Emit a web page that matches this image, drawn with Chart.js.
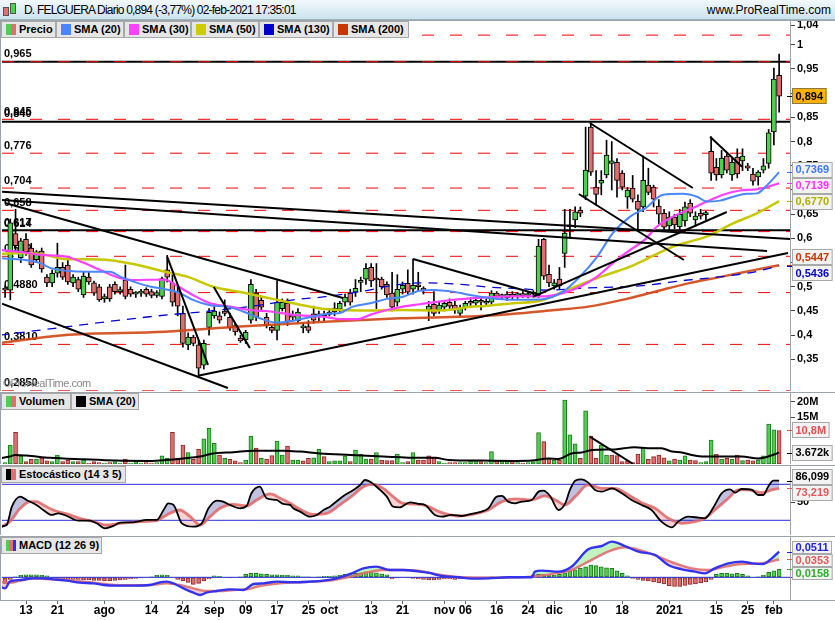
<!DOCTYPE html>
<html><head><meta charset="utf-8">
<script src="https://cdn.jsdelivr.net/npm/chart.js@4.4.1/dist/chart.umd.min.js"></script>
<style>
html,body{margin:0;padding:0;background:#fff;}
body{width:835px;height:620px;position:relative;overflow:hidden;font-family:Arial,"Liberation Sans",Helvetica,sans-serif;}
.pane{position:absolute;left:0;width:835px;}
#title{position:absolute;left:0;top:0;width:835px;height:19px;background:linear-gradient(#f2f9fc,#cbe3ee);border-bottom:1px solid #9db3bf;z-index:6;}
#title .t{position:absolute;left:24px;top:3px;font-size:12px;letter-spacing:-0.8px;color:#000;white-space:nowrap;}
#title .w{position:absolute;right:4px;top:3px;font-size:12px;color:#000;white-space:nowrap;}
.ic{position:absolute;border:1px solid #555;box-sizing:border-box;}
.lg{position:absolute;height:17px;background:#e6e6e6;border:1px solid #a8a8a8;box-sizing:border-box;font-size:11px;font-weight:bold;line-height:15px;white-space:nowrap;color:#000;z-index:5;}
.lg i{position:absolute;left:4px;top:2px;width:10px;height:11px;}
.lg span{position:absolute;left:17px;top:0;}
.wm{position:absolute;left:3px;top:377px;font-size:11px;letter-spacing:-0.5px;color:#888;z-index:4;white-space:nowrap;}
</style></head>
<body>
<div id="title">
  <div class="ic" style="left:3px;top:7px;width:6px;height:9px;background:#e07070;"></div>
  <div class="ic" style="left:10px;top:3px;width:6px;height:11px;background:#4fcf4f;"></div>
  <div class="t">D. FELGUERA Diario 0,894 (-3,77%) 02-feb-2021 17:35:01</div>
  <div class="w">www.ProRealTime.com</div>
</div>

<div class="lg" style="left:1px;top:21px;width:55px;"><i style="background:linear-gradient(90deg,#4fcf4f 50%,#e07070 50%);"></i><span>Precio</span></div>
<div class="lg" style="left:56px;top:21px;width:68px;"><i style="background:#4a86ff;"></i><span>SMA (20)</span></div>
<div class="lg" style="left:124px;top:21px;width:67px;"><i style="background:#ff40ff;"></i><span>SMA (30)</span></div>
<div class="lg" style="left:191px;top:21px;width:68px;"><i style="background:#cccc00;"></i><span>SMA (50)</span></div>
<div class="lg" style="left:259px;top:21px;width:74px;"><i style="background:#0000cc;"></i><span>SMA (130)</span></div>
<div class="lg" style="left:333px;top:21px;width:76px;"><i style="background:#cc3300;"></i><span>SMA (200)</span></div>

<div class="lg" style="left:1px;top:393px;width:70px;"><i style="background:linear-gradient(90deg,#4fcf4f 50%,#e07070 50%);"></i><span>Volumen</span></div>
<div class="lg" style="left:71px;top:393px;width:68px;"><i style="background:#000;"></i><span>SMA (20)</span></div>
<div class="lg" style="left:1px;top:466px;width:125px;"><i style="background:linear-gradient(90deg,#000 50%,#e07070 50%);"></i><span>Estocástico (14 3 5)</span></div>
<div class="lg" style="left:1px;top:537px;width:101px;"><i style="background:linear-gradient(90deg,#4fcf4f 33%,#e07070 33%,#e07070 66%,#3030ee 66%);"></i><span>MACD (12 26 9)</span></div>

<div class="wm">©ProRealTime.com</div>

<div class="pane" style="top:20px;height:371px;"><canvas id="cMain"></canvas></div>
<div class="pane" style="top:392px;height:72px;"><canvas id="cVol"></canvas></div>
<div class="pane" style="top:465px;height:70px;"><canvas id="cSto"></canvas></div>
<div class="pane" style="top:536px;height:84px;"><canvas id="cMacd"></canvas></div>

<script>
// ---------------- DATA ----------------
const FIRST_INDEX = -4;           // first bar = 7 jul 2020, index 0 = 13 jul 2020
const X_MIN = -4.59, X_MAX = 146.08;

const tickIdx  = [0,6,15,24,30,36,42,48,54,58,66,72,80,84,90,96,101,108,114,123,132,138,143];
const tickText = ["13","21","ago","14","24","sep","09","17","25","oct","13","21","nov","06","16","24","dic","10","18","2021","15","25","feb"];

const open = [
 0.497,0.493,0.610,0.560,0.598,0.580,0.556,0.574,0.520,0.508,
 0.528,0.540,0.545,0.508,0.515,0.483,0.520,0.508,0.500,0.475,
 0.500,0.505,0.490,0.514,0.495,0.485,0.487,0.495,0.490,0.482,
 0.480,0.535,0.508,0.490,0.445,0.380,0.396,0.380,0.338,0.416,
 0.440,0.440,0.450,0.437,0.420,0.394,0.390,0.431,0.487,0.472,
 0.437,0.416,0.410,0.455,0.466,0.440,0.430,0.415,0.418,0.444,
 0.440,0.441,0.448,0.448,0.454,0.468,0.487,0.489,0.509,0.516,
 0.540,0.518,0.516,0.505,0.487,0.468,0.495,0.507,0.495,0.501,
 0.494,0.452,0.464,0.452,0.458,0.468,0.462,0.445,0.458,0.470,
 0.466,0.472,0.466,0.468,0.487,0.480,0.477,0.485,0.482,0.486,
 0.482,0.485,0.483,0.598,0.526,0.502,0.516,0.569,0.624,0.638,
 0.658,0.687,0.830,0.706,0.714,0.731,0.755,0.757,0.735,0.685,
 0.704,0.677,0.665,0.710,0.706,0.667,0.652,0.626,0.644,0.624,
 0.636,0.673,0.638,0.652,0.649,0.780,0.747,0.731,0.770,0.731,
 0.768,0.760,0.750,0.733,0.727,0.741,0.755,0.820,0.937];
const high = [
 0.502,0.640,0.660,0.600,0.610,0.590,0.575,0.580,0.525,0.535,
 0.590,0.550,0.555,0.525,0.520,0.530,0.530,0.512,0.505,0.485,
 0.505,0.510,0.500,0.545,0.500,0.490,0.495,0.498,0.495,0.492,
 0.520,0.565,0.525,0.500,0.460,0.405,0.400,0.388,0.390,0.455,
 0.465,0.448,0.473,0.445,0.425,0.400,0.410,0.515,0.495,0.480,
 0.445,0.420,0.513,0.475,0.475,0.450,0.455,0.425,0.430,0.460,
 0.450,0.450,0.455,0.467,0.470,0.485,0.495,0.515,0.520,0.548,
 0.548,0.548,0.520,0.510,0.530,0.525,0.510,0.535,0.557,0.530,
 0.500,0.470,0.490,0.470,0.472,0.475,0.470,0.462,0.470,0.478,
 0.476,0.478,0.475,0.492,0.490,0.485,0.490,0.490,0.488,0.490,
 0.490,0.492,0.598,0.600,0.545,0.515,0.540,0.660,0.660,0.665,
 0.665,0.830,0.838,0.740,0.740,0.803,0.800,0.765,0.740,0.705,
 0.730,0.690,0.770,0.745,0.710,0.680,0.660,0.655,0.650,0.660,
 0.675,0.680,0.655,0.660,0.656,0.810,0.765,0.782,0.775,0.765,
 0.785,0.785,0.755,0.745,0.740,0.765,0.825,0.952,0.981];
const low = [
 0.478,0.473,0.575,0.550,0.565,0.540,0.550,0.530,0.500,0.500,
 0.520,0.515,0.505,0.500,0.490,0.478,0.505,0.482,0.470,0.468,
 0.470,0.485,0.485,0.475,0.480,0.478,0.480,0.480,0.477,0.478,
 0.475,0.510,0.460,0.440,0.375,0.370,0.378,0.316,0.330,0.400,
 0.435,0.425,0.440,0.410,0.400,0.385,0.383,0.425,0.430,0.450,
 0.415,0.405,0.390,0.450,0.420,0.430,0.425,0.405,0.405,0.425,
 0.430,0.430,0.440,0.440,0.445,0.460,0.462,0.480,0.490,0.505,
 0.500,0.455,0.495,0.478,0.450,0.460,0.485,0.485,0.485,0.490,
 0.485,0.430,0.440,0.445,0.450,0.455,0.445,0.440,0.452,0.460,
 0.460,0.452,0.460,0.462,0.475,0.475,0.472,0.475,0.476,0.478,
 0.477,0.480,0.478,0.515,0.500,0.495,0.495,0.540,0.600,0.622,
 0.645,0.680,0.730,0.668,0.690,0.725,0.700,0.685,0.700,0.662,
 0.675,0.617,0.655,0.690,0.665,0.630,0.615,0.617,0.620,0.615,
 0.625,0.645,0.625,0.640,0.638,0.720,0.720,0.725,0.735,0.720,
 0.725,0.740,0.740,0.710,0.710,0.735,0.745,0.793,0.861];
const close = [
 0.493,0.632,0.585,0.595,0.572,0.545,0.572,0.537,0.508,0.528,
 0.540,0.520,0.510,0.520,0.495,0.522,0.510,0.487,0.473,0.480,
 0.475,0.490,0.492,0.480,0.485,0.486,0.490,0.485,0.482,0.488,
 0.517,0.520,0.468,0.460,0.383,0.396,0.383,0.332,0.383,0.447,
 0.450,0.431,0.445,0.415,0.407,0.388,0.406,0.505,0.437,0.458,
 0.420,0.410,0.468,0.468,0.427,0.437,0.448,0.416,0.410,0.431,
 0.443,0.437,0.443,0.456,0.466,0.479,0.468,0.497,0.511,0.538,
 0.512,0.514,0.500,0.483,0.458,0.495,0.503,0.489,0.503,0.500,
 0.493,0.460,0.445,0.462,0.466,0.460,0.452,0.456,0.466,0.466,
 0.472,0.468,0.470,0.487,0.480,0.482,0.485,0.480,0.483,0.481,
 0.483,0.486,0.584,0.522,0.508,0.508,0.502,0.611,0.628,0.655,
 0.652,0.741,0.737,0.691,0.720,0.772,0.760,0.720,0.706,0.700,
 0.681,0.660,0.720,0.695,0.681,0.650,0.623,0.644,0.628,0.650,
 0.665,0.652,0.646,0.646,0.651,0.735,0.731,0.766,0.741,0.757,
 0.733,0.770,0.745,0.718,0.737,0.750,0.818,0.929,0.894];
const volume = [ // millions
 0.43,6.1,10.2,2.6,0.75,1.5,1.6,2.0,1.0,0.75,
 2.9,0.75,1.3,0.75,0.75,1.3,0.2,0.75,0.43,0.2,
 0.43,0.75,0.2,1.6,0.2,0.75,0.2,0.43,0.2,0.43,
 2.6,1.8,10.2,1.8,6.1,3.7,1.5,4.7,8.1,11.5,
 6.7,2.9,1.8,1.5,1.0,0.43,1.3,9.0,5.1,1.8,
 1.6,2.7,7.4,2.9,5.8,1.3,1.3,1.0,1.8,2.0,
 4.7,2.4,0.75,1.0,1.0,2.6,0.75,4.5,3.2,1.6,
 1.6,3.7,1.3,1.1,1.1,3.2,0.43,0.75,3.7,1.3,
 1.3,2.6,2.0,0.75,0.2,0.43,0.43,0.43,0.43,1.1,
 1.1,0.75,0.43,4.0,1.1,1.1,0.75,0.75,0.43,0.2,
 0.43,0.75,10.1,7.2,1.8,1.3,1.3,20.6,9.4,6.5,
 1.8,17.1,9.0,1.8,6.1,2.9,2.9,2.7,0.75,1.0,
 0.43,3.2,5.1,1.5,2.4,2.9,2.0,1.0,1.6,1.3,
 2.6,1.3,1.1,0.43,0.75,7.7,3.2,1.6,1.8,1.6,
 2.9,1.1,1.3,1.0,1.3,2.6,12.9,11.0,10.8];
const macdHist = [
 -0.012,-0.004,0.001,0.004,0.005,0.005,0.005,0.004,0.003,-0.002,
 -0.002,-0.003,-0.003,-0.004,-0.004,-0.005,-0.005,-0.006,-0.006,-0.007,
 -0.007,-0.006,-0.005,-0.004,-0.003,-0.002,-0.001,0.000,0.001,0.004,
 0.005,0.004,0.000,-0.004,-0.007,-0.010,-0.014,-0.012,-0.007,-0.003,
 0.003,0.002,0.000,-0.001,0.000,0.001,0.006,0.008,0.008,0.007,
 0.006,0.005,0.005,0.004,0.004,0.003,0.003,0.001,0.001,0.000,
 0.001,0.002,0.002,0.003,0.004,0.006,0.007,0.008,0.009,0.011,
 0.011,0.009,0.007,0.005,-0.003,-0.001,0.000,-0.001,-0.002,-0.003,
 -0.004,-0.005,-0.005,-0.004,-0.003,-0.003,-0.004,-0.003,-0.002,-0.001,
 -0.001,0.000,0.000,0.001,0.000,0.000,0.000,0.000,0.000,0.000,
 0.000,0.005,0.006,0.006,0.005,0.004,0.006,0.009,0.012,0.015,
 0.018,0.021,0.024,0.023,0.021,0.019,0.018,0.013,0.008,0.003,
 -0.002,-0.004,-0.006,-0.007,-0.009,-0.011,-0.013,-0.017,-0.018,-0.018,
 -0.016,-0.014,-0.013,-0.011,-0.009,-0.004,0.006,0.008,0.008,0.007,
 0.008,0.006,0.003,0.000,0.001,0.004,0.010,0.013,0.0158];

// moving averages / indicators read at [bar index, value]
const sma20 = [[-5,0.559],[0.2,0.555],[2.7,0.549],[4.6,0.539],[7.8,0.533],[11.7,0.531],[16.1,0.531],[18.0,0.521],[20.5,0.511],[23.1,0.502],[26.6,0.495],[29.4,0.487],[31.9,0.473],[35.2,0.462],[38.4,0.459],[41.5,0.449],[44.7,0.435],[48.0,0.426],[51.1,0.430],[54.3,0.437],[57.2,0.444],[60.0,0.446],[62.5,0.459],[65.8,0.466],[69.0,0.475],[72.1,0.4795],[75.3,0.492],[77.8,0.4934],[81.6,0.490],[84.9,0.483],[87.8,0.478],[93.1,0.473],[98.3,0.4735],[102.7,0.490],[105.9,0.521],[109.2,0.562],[112.2,0.611],[115.5,0.645],[118.4,0.662],[121.8,0.690],[125.6,0.692],[128.3,0.686],[130.2,0.676],[132.7,0.678],[135.2,0.686],[137.9,0.692],[139.8,0.693],[141.7,0.710],[144,0.7369]];
const sma30 = [[-5,0.576],[-1.1,0.572],[2.7,0.566],[7.8,0.562],[10.9,0.550],[14.1,0.535],[17.4,0.520],[20.5,0.514],[26.6,0.515],[28.1,0.507],[31.9,0.483],[35.2,0.466],[38.4,0.460],[42.8,0.452],[46.7,0.449],[51.1,0.442],[57.2,0.438],[60.0,0.433],[63.3,0.433],[65.8,0.442],[69.0,0.452],[72.1,0.459],[75.3,0.464],[78.6,0.469],[81.6,0.473],[84.9,0.476],[87.8,0.478],[93.1,0.480],[98.3,0.480],[102.7,0.487],[105.9,0.500],[109.2,0.521],[112.2,0.549],[115.5,0.576],[118.4,0.598],[120.6,0.624],[123.7,0.645],[126.9,0.660],[130.2,0.676],[133.3,0.690],[136.5,0.699],[139.8,0.7015],[144,0.7139]];
const sma50 = [[-5,0.568],[-1.1,0.570],[2.7,0.568],[7.8,0.557],[11.7,0.557],[16.1,0.555],[20.5,0.547],[26.6,0.531],[30.8,0.521],[35.8,0.500],[41.5,0.488],[48.0,0.473],[54.3,0.459],[57.2,0.454],[60.0,0.452],[65.8,0.451],[72.1,0.452],[78.6,0.451],[81.6,0.453],[84.9,0.459],[87.8,0.4603],[93.1,0.466],[98.3,0.471],[102.7,0.490],[105.9,0.504],[109.2,0.518],[112.2,0.529],[115.5,0.5415],[118.4,0.556],[123.7,0.583],[130.2,0.604],[135.2,0.631],[139.8,0.652],[144,0.677]];
const sma130 = [[-5,0.400],[25.2,0.440],[33.3,0.448],[44.7,0.462],[51.1,0.473],[57.2,0.4795],[63.9,0.490],[72.1,0.506],[77.2,0.508],[83.0,0.505],[87.8,0.500],[94.5,0.496],[99.6,0.493],[105.9,0.497],[117.4,0.502],[126.6,0.514],[133.1,0.521],[139.4,0.531],[144,0.5436]];
const sma200 = [[-5,0.384],[7.1,0.400],[26.6,0.407],[40.9,0.418],[57.2,0.428],[71.5,0.435],[87.8,0.440],[101.1,0.452],[107.5,0.459],[114.0,0.473],[120.3,0.490],[126.6,0.507],[133.1,0.521],[139.4,0.535],[144,0.5447]];
const volSma20 = [[-5,1.8],[-3.1,2.4],[-2.1,2.9],[0.1,2.7],[4.6,2.0],[11.0,1.5],[17.3,1.1],[23.7,1.0],[26.9,1.3],[30.1,1.8],[33.3,2.4],[35.8,3.4],[39.6,3.8],[43.5,4.3],[49.2,4.3],[52.4,4.0],[56.2,3.4],[62.0,2.9],[68.3,2.4],[75.3,2.0],[78.2,2.0],[80.8,1.3],[87.1,1.1],[93.5,1.0],[96.7,1.1],[99.9,1.8],[101.8,1.6],[104.3,3.4],[106.2,3.7],[108.2,4.5],[112.6,4.7],[116.4,5.4],[118.9,5.1],[121.5,5.1],[123.5,4.0],[125.4,3.7],[127.3,2.9],[129.8,2.4],[133.7,2.4],[136.8,2.4],[140.0,1.8],[141.9,2.4],[144,3.672]];
const stochK = [[-5,9.4],[-3.7,12.2],[-2.7,42.8],[-1.1,59.4],[0.1,53.9],[2.0,45.6],[3.3,37.2],[4.9,28.9],[6.2,31.7],[7.8,27.2],[10.0,19.4],[12.2,19.4],[13.5,15],[15.1,6.7],[16.7,10.6],[18.0,16.1],[20.5,16.7],[23.1,20.6],[25.0,20.6],[26.3,37.2],[27.2,48.3],[28.2,45.6],[29.8,15],[32.0,9.4],[33.6,15],[34.9,40],[36.5,52.8],[37.7,51.1],[39.0,45.6],[40.9,40],[42.2,43.9],[43.1,65],[44.7,76.1],[46.0,56.7],[47.9,53.9],[49.2,47.2],[50.5,45.6],[51.1,40],[52.4,34.4],[54.3,26.1],[55.6,28.9],[56.9,37.2],[58.1,42.8],[60.7,60.6],[62.6,70.6],[63.9,78.9],[64.8,87.2],[65.8,84.4],[67.7,70.6],[69.0,59.4],[70.2,42.8],[71.5,41.7],[73.4,50],[75.3,47.2],[76.3,45.6],[78.2,28.9],[79.5,26.1],[81.4,28.9],[83.3,27.2],[85.2,30.6],[87.1,34.4],[88.4,40],[90.0,59.4],[91.0,60.6],[92.2,51.1],[93.5,48.3],[94.8,51.1],[96.7,53.9],[98.0,67.8],[98.9,69.4],[100.2,60.6],[101.8,37.2],[103.1,48.3],[104.0,70.6],[105.0,86.1],[106.2,88.3],[107.5,82.8],[108.8,70.6],[110.1,67.8],[112.0,73.3],[113.9,65],[115.8,53.9],[117.7,45.6],[119.6,37.2],[121.5,17.8],[123.5,8.3],[124.7,17.8],[126.6,26.1],[128.6,24.4],[129.8,23.3],[131.7,45.6],[133.0,65],[134.6,71.7],[135.6,66.1],[136.8,72.2],[138.8,70.6],[140.0,62.2],[141.0,62.2],[141.9,76.1],[142.9,86.1],[144,86.099]];
const stochD = [[-5,8.3],[-3.1,17.8],[-1.1,40],[0.8,51.1],[2.0,51.1],[3.3,45.6],[5.2,37.2],[7.8,30.6],[10.3,23.3],[12.9,17.8],[15.4,12.2],[18.0,15],[21.8,17.8],[25.0,19.4],[26.9,28.9],[29.4,37.2],[31.4,26.1],[33.3,12.2],[35.2,26.1],[37.1,40],[39.6,46.7],[42.2,43.9],[44.1,53.9],[46.7,63.9],[48.6,56.7],[50.5,48.3],[52.4,38.3],[54.9,30],[57.5,31.7],[60.0,45.6],[62.6,62.2],[64.5,76.1],[66.4,80],[68.3,73.3],[70.2,59.4],[72.1,48.3],[75.3,46.7],[76.9,42.8],[79.5,32.8],[82.7,27.2],[85.8,30.6],[88.4,37.2],[91.0,51.1],[93.5,55.6],[96.7,53.9],[99.2,60.6],[101.2,53.9],[103.1,45.6],[105.0,59.4],[107.5,78.9],[110.1,73.3],[112.6,73.3],[115.2,62.2],[117.7,49.4],[120.3,40],[122.8,23.3],[125.4,15],[127.9,17.8],[129.8,23.3],[131.7,37.2],[134.3,56.7],[136.2,70.6],[138.1,70.6],[140.7,66.1],[142.6,70.6],[144,73.219]];
const macdLine = [[-5,-0.0185],[-4,-0.0218],[-3.1,-0.0086],[-1.1,-0.0053],[1.4,-0.002],[3.3,-0.002],[5.2,-0.004],[7.8,-0.0066],[10.3,-0.0106],[12.9,-0.0119],[14.8,-0.0152],[17.3,-0.0165],[20.5,-0.0165],[23.7,-0.0152],[25.6,-0.0099],[26.9,-0.0086],[28.2,-0.0119],[30.1,-0.0218],[32.0,-0.0304],[33.3,-0.035],[34.5,-0.0304],[36.5,-0.0271],[39.0,-0.0238],[41.6,-0.0251],[43.5,-0.0132],[45.4,-0.0119],[47.9,-0.0086],[51.1,-0.0099],[54.3,-0.0086],[56.9,-0.0066],[59.4,-0.002],[62.0,0.0066],[64.5,0.0178],[67.0,0.0211],[69.6,0.0145],[72.1,0.0145],[75.3,0.0112],[76.9,0.0092],[79.5,0.0026],[82.7,0],[85.2,-0.0026],[88.4,-0.002],[92.2,0],[96.7,0],[97.3,0.0112],[98.6,0.0132],[101.8,0.0112],[104.3,0.0211],[107.5,0.0554],[110.1,0.062],[112.0,0.0706],[114.5,0.062],[117.1,0.0508],[120.3,0.0442],[122.8,0.0244],[125.4,0.0158],[127.9,0.0112],[129.8,0.0079],[131.7,0.0178],[134.3,0.0277],[136.8,0.031],[138.8,0.0277],[141.0,0.0264],[142.6,0.0376],[144,0.0511]];
const macdSignal = [[-5,-0.0086],[-3.1,-0.0106],[-1.1,-0.0066],[1.4,-0.002],[3.9,-0.0033],[7.8,-0.0053],[11.0,-0.0086],[14.1,-0.0119],[17.3,-0.0152],[20.5,-0.0158],[23.7,-0.0152],[26.9,-0.0119],[29.4,-0.0152],[32.0,-0.0218],[34.5,-0.0271],[37.1,-0.0271],[39.6,-0.0251],[42.2,-0.0238],[44.7,-0.0172],[47.3,-0.0132],[51.1,-0.0099],[54.9,-0.0086],[58.8,-0.0053],[62.0,0.0013],[65.1,0.0092],[68.3,0.0145],[71.5,0.0145],[75.3,0.0125],[78.2,0.0066],[82.0,0.0013],[87.1,-0.0007],[92.2,-0.0007],[96.7,0.0013],[101.2,0.0079],[104.3,0.0145],[107.5,0.031],[111.3,0.0508],[114.5,0.0594],[117.7,0.0528],[120.9,0.0409],[124.1,0.0277],[127.3,0.0178],[130.5,0.0145],[133.7,0.0211],[136.8,0.0264],[140.7,0.0277],[144,0.0353]];

// horizontal levels and drawn trend lines (price units / bar index)
const dashLevels  = [1.02,0.965,0.846,0.776,0.704,0.658,0.614,0.563,0.488,0.381,0.285];
const solidLevels = [0.965,0.841,0.617];
const levelLabelValues = [0.965,0.846,0.841,0.776,0.704,0.658,0.617,0.614,0.563,0.488,0.381,0.285];
const levelLabelTexts  = ["0,965","0,845","0,840","0,776","0,704","0,658","0,617","0,614","0,569","0,4880","0,3810","0,2850"];
const trendLines = [
 [-4.59,0.6963,146.08,0.5988],[-4.59,0.6791,141.7,0.574],[-4.0,0.673,60.6,0.477],[-4.59,0.465,38.6,0.291],
 [32.9,0.316,145.7,0.570],[27.0,0.5616,34.8,0.3385],[35.9,0.4996,42.8,0.3735],[74.0,0.5574,98.3,0.4831],
 [107.8,0.8384,127.5,0.7041],[105.7,0.6917,125.8,0.5554],[96.9,0.479,134.0,0.6545],[130.8,0.8099,136.9,0.748]];
const volTrendLines = [[107.8,8.8,116.1,0]];
const priceTicks = [0.35,0.4,0.45,0.5,0.55,0.6,0.65,0.7,0.75,0.8,0.85,0.9,0.95,1,1.04];
const volTicks = [15,20];
const stoTicks = [50];
const stoLevels = [80,20];
const macdTicks = [0];

// ---------------- HELPERS ----------------
Chart.defaults.font.family = 'Arial, "Liberation Sans", Helvetica, sans-serif';
const GREEN = '#4fcf4f', RED = '#e26d6d';
const idx = open.map((_, i) => FIRST_INDEX + i);
const fmtTick = v => String(+v.toFixed(2)).replace('.', ',');
const last = a => a[a.length - 1][1];
const pts = pairs => pairs.map(p => ({x: p[0], y: p[1]}));

function hline(v, color, width, dash, order) {
  return {type: 'line', data: [{x: X_MIN, y: v}, {x: X_MAX, y: v}], borderColor: color, borderWidth: width,
          borderDash: dash || [], pointRadius: 0, order, fill: false, tension: 0};
}
function seg(s, order) {
  return {type: 'line', data: [{x: s[0], y: s[1]}, {x: s[2], y: s[3]}], borderColor: '#000', borderWidth: 2,
          pointRadius: 0, order, fill: false, tension: 0};
}
function curve(pairs, color, width, order, extra) {
  return Object.assign({type: 'line', data: pts(pairs), borderColor: color, borderWidth: width, pointRadius: 0,
          order, fill: false, cubicInterpolationMode: 'monotone'}, extra || {});
}

function drawBoxes(chart, items, h) {
  const ctx = chart.ctx, ys = chart.scales.y, a = chart.chartArea;
  const arr = items.map(it => Object.assign({}, it, {y: ys.getPixelForValue(it.v)})).sort((p, q) => p.y - q.y);
  let groups = arr.map(p => ({items: [p], c: p.y}));
  let changed = true;
  while (changed) {
    changed = false;
    for (let i = 0; i < groups.length - 1; i++) {
      const g1 = groups[i], g2 = groups[i + 1];
      if (g1.c + g1.items.length * h / 2 > g2.c - g2.items.length * h / 2) {
        const its = g1.items.concat(g2.items);
        const c = its.reduce((s, p) => s + p.y, 0) / its.length;
        groups.splice(i, 2, {items: its, c});
        changed = true; break;
      }
    }
  }
  groups.forEach(g => g.items.forEach((p, k) => { p.py = g.c - g.items.length * h / 2 + h * (k + 0.5); }));
  ctx.save();
  ctx.font = 'bold 11px Arial, "Liberation Sans", sans-serif';
  ctx.textBaseline = 'middle'; ctx.textAlign = 'left';
  arr.forEach(p => {
    const x = a.right + 2, w = ctx.measureText(p.text).width + 7;
    ctx.strokeStyle = p.bg ? '#000' : p.color; ctx.lineWidth = 1;
    ctx.beginPath(); ctx.moveTo(a.right - 3, Math.round(p.y) + 0.5); ctx.lineTo(a.right + 3, Math.round(p.y) + 0.5); ctx.stroke();
    ctx.fillStyle = p.bg || '#f3f3f3';
    ctx.fillRect(x, Math.round(p.py - h / 2), w, h);
    ctx.strokeStyle = p.bg ? '#8a7a40' : '#a9a9a9';
    ctx.strokeRect(x + 0.5, Math.round(p.py - h / 2) + 0.5, w - 1, h - 1);
    ctx.fillStyle = p.color;
    ctx.fillText(p.text, x + 3.5, p.py + 0.5);
  });
  ctx.restore();
}

function decor(opts) {
  return {
    id: 'decor',
    beforeDatasetsDraw(chart) {
      if (!opts.labels) return;
      const ctx = chart.ctx, ys = chart.scales.y, a = chart.chartArea;
      ctx.save();
      ctx.font = 'bold 11px Arial, "Liberation Sans", sans-serif';
      ctx.fillStyle = '#000'; ctx.textBaseline = 'bottom'; ctx.textAlign = 'left';
      opts.labels.values.forEach((v, i) => ctx.fillText(opts.labels.texts[i], a.left + 2, ys.getPixelForValue(v) - 2));
      ctx.restore();
    },
    afterDraw(chart) {
      const ctx = chart.ctx, a = chart.chartArea;
      ctx.save();
      ctx.strokeStyle = '#9aa3aa'; ctx.lineWidth = 1;
      ctx.beginPath();
      ctx.moveTo(0, a.top + 0.5); ctx.lineTo(chart.width, a.top + 0.5);
      ctx.moveTo(0.5, a.top); ctx.lineTo(0.5, a.bottom);
      if (opts.bottomLine) { ctx.moveTo(0, a.bottom + 0.5); ctx.lineTo(chart.width, a.bottom + 0.5); }
      ctx.stroke();
      ctx.restore();
      if (opts.boxes) drawBoxes(chart, opts.boxes, opts.boxH || 16);
    }
  };
}

function options(yMin, yMax, yTicks, yFmt, showX) {
  const x = {type: 'linear', min: X_MIN, max: X_MAX, offset: false, display: showX, position: 'bottom',
          afterBuildTicks: s => { s.ticks = tickIdx.map(v => ({value: v})); },
          ticks: {autoSkip: false, maxRotation: 0, minRotation: 0, padding: -1, color: '#000',
                  font: {size: 12, weight: 'bold'}, callback: (v, i) => tickText[i]},
          grid: {drawOnChartArea: false, drawTicks: true, tickLength: 4, color: '#666', offset: false},
          border: {display: true, color: '#9aa3aa'}};
  if (showX) x.afterFit = s => { s.height = 20; };
  return {
    responsive: true, maintainAspectRatio: false, animation: false, events: [],
    layout: {padding: {left: 2, right: 0, top: 0, bottom: 0}},
    plugins: {legend: {display: false}, tooltip: {enabled: false}, filler: {drawTime: 'beforeDatasetsDraw'}},
    scales: {
      x,
      y: {type: 'linear', position: 'right', min: yMin, max: yMax,
          afterBuildTicks: s => { s.ticks = yTicks.map(v => ({value: v})); },
          afterFit: s => { s.width = 45; s.paddingTop = 0; s.paddingBottom = 0; },
          ticks: {autoSkip: false, padding: 2, color: '#000', font: {size: 11, weight: 'bold'}, callback: yFmt},
          grid: {drawOnChartArea: false, drawTicks: true, tickLength: 5, color: '#444'},
          border: {display: true, color: '#9aa3aa'}}
    }
  };
}

// ---------------- MAIN PRICE PANEL ----------------
const bodyColors = idx.map((_, i) => close[i] >= open[i] ? GREEN : RED);
const mainDatasets = [
  ...solidLevels.map(v => hline(v, '#000', 2, [], 30)),
  ...dashLevels.map(v => hline(v, '#ff0000', 1, [12, 16], 29)),
  {type: 'bar', data: idx.map((x, i) => ({x, y: [low[i], high[i]]})), backgroundColor: '#000', borderWidth: 0,
   barThickness: 1, grouped: false, order: 20},
  {type: 'bar', data: idx.map((x, i) => ({x, y: [open[i], close[i]]})), backgroundColor: bodyColors,
   borderColor: '#000', borderWidth: 1, borderSkipped: false, barThickness: 5, minBarLength: 2, grouped: false, order: 19},
  curve(sma200, 'rgba(208,70,20,0.9)', 2.5, 10),
  curve(sma130, '#0000dd', 1.3, 9, {borderDash: [9, 7]}),
  curve(sma50, '#c8c800', 2.5, 8),
  curve(sma30, '#ff40ff', 2.2, 7),
  curve(sma20, '#4a86ff', 2, 6),
  ...trendLines.map(s => seg(s, 1))
];
new Chart(document.getElementById('cMain'), {
  type: 'bar',
  data: {datasets: mainDatasets},
  options: options(0.2847, 1.0512, priceTicks, v => fmtTick(v), false),
  plugins: [decor({
    labels: {values: levelLabelValues, texts: levelLabelTexts},
    boxes: [
      {v: close[close.length - 1], text: close[close.length - 1].toFixed(3).replace('.', ','), color: '#000', bg: '#ffb000'},
      {v: last(sma20), text: last(sma20).toFixed(4).replace('.', ','), color: '#3a78ff'},
      {v: last(sma30), text: last(sma30).toFixed(4).replace('.', ','), color: '#ff30ff'},
      {v: last(sma50), text: last(sma50).toFixed(4).replace('.', ','), color: '#b0b000'},
      {v: last(sma200), text: last(sma200).toFixed(4).replace('.', ','), color: '#cc3300'},
      {v: last(sma130), text: last(sma130).toFixed(4).replace('.', ','), color: '#0000cc'}
    ], boxH: 16})]
});

// ---------------- VOLUME PANEL ----------------
const volColors = idx.map((_, i) => (i === 0 || close[i] >= close[i - 1]) ? GREEN : RED);
const volBorders = volColors.map(c => c === GREEN ? '#1f7a1f' : '#8c2a2a');
new Chart(document.getElementById('cVol'), {
  type: 'bar',
  data: {datasets: [
    {type: 'bar', data: idx.map((x, i) => ({x, y: volume[i]})), backgroundColor: volColors, borderColor: volBorders,
     borderWidth: 1, borderSkipped: false, barThickness: 4, grouped: false, order: 10},
    curve(volSma20, '#000', 2, 5),
    ...volTrendLines.map(s => seg(s, 1))
  ]},
  options: options(0, 23.2, volTicks, v => v + 'M', false),
  plugins: [decor({boxes: [
    {v: volume[volume.length - 1], text: String(volume[volume.length - 1]).replace('.', ',') + 'M', color: '#e05050'},
    {v: last(volSma20), text: last(volSma20).toFixed(3) + 'k', color: '#000'}
  ], boxH: 16})]
});

// ---------------- STOCHASTIC PANEL ----------------
new Chart(document.getElementById('cSto'), {
  type: 'line',
  data: {datasets: [
    curve(stochK, '#000', 1.8, 1, {fill: {target: 1, above: 'rgba(150,150,205,0.6)', below: 'rgba(240,175,175,0.55)'}}),
    curve(stochD, 'rgba(225,100,100,0.85)', 2.8, 2),
    ...stoLevels.map(v => hline(v, '#2828e0', 1, [], 5))
  ]},
  options: options(-4.5, 112.2, stoTicks, v => String(v), false),
  plugins: [decor({boxes: [
    {v: last(stochK), text: last(stochK).toFixed(3).replace('.', ','), color: '#000'},
    {v: last(stochD), text: last(stochD).toFixed(3).replace('.', ','), color: '#e05a5a'}
  ], boxH: 16})]
});

// ---------------- MACD PANEL ----------------
const histColors = macdHist.map(v => v >= 0 ? GREEN : RED);
const histBorders = macdHist.map(v => v >= 0 ? '#1f7a1f' : '#8c2a2a');
new Chart(document.getElementById('cMacd'), {
  type: 'bar',
  data: {datasets: [
    curve(macdLine, '#3333ee', 2.4, 1, {fill: {target: 1, above: 'rgba(150,235,150,0.6)', below: 'rgba(240,170,170,0.6)'}}),
    curve(macdSignal, 'rgba(225,110,110,0.9)', 2.4, 2),
    hline(0, '#2020d0', 1, [], 4),
    {type: 'bar', data: idx.map((x, i) => ({x, y: macdHist[i]})), backgroundColor: histColors, borderColor: histBorders,
     borderWidth: 1, borderSkipped: false, barThickness: 4, grouped: false, order: 6}
  ]},
  options: options(-0.0449, 0.0818, macdTicks, v => String(v), true),
  plugins: [decor({bottomLine: true, boxes: [
    {v: last(macdLine), text: last(macdLine).toFixed(4).replace('.', ','), color: '#2020e0'},
    {v: last(macdSignal), text: last(macdSignal).toFixed(4).replace('.', ','), color: '#e05a5a'},
    {v: macdHist[macdHist.length - 1], text: macdHist[macdHist.length - 1].toFixed(4).replace('.', ','), color: '#2fae2f'}
  ], boxH: 13})]
});
</script>
</body></html>
